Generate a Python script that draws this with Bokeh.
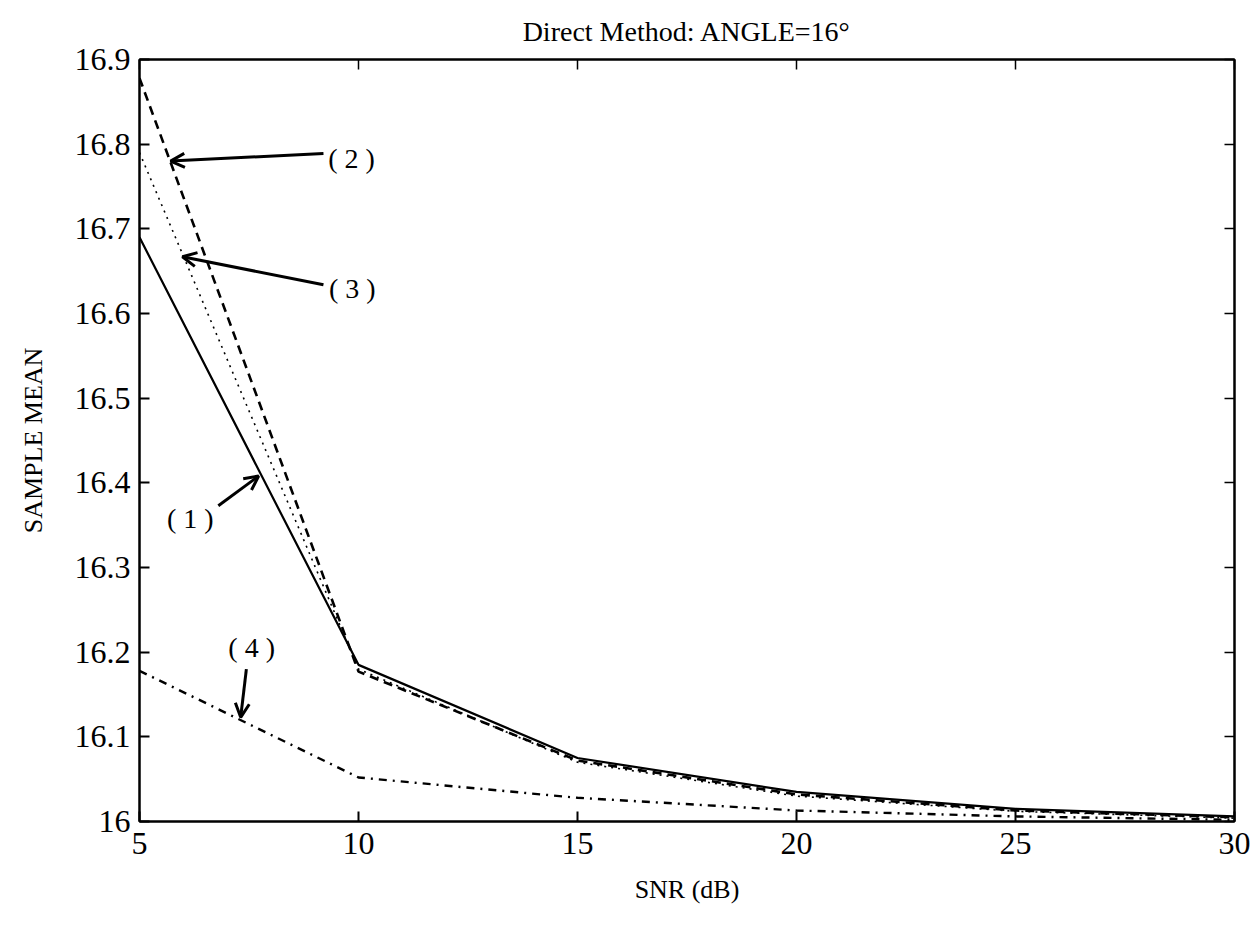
from bokeh.plotting import figure
from bokeh.models import (Range1d, FixedTicker, LinearAxis, Arrow, OpenHead,
                          CustomJSTickFormatter, Label)
from bokeh.embed import file_html
from bokeh.resources import INLINE

# SNR values (dB) on the x axis
snr = [5, 10, 15, 20, 25, 30]

# sample mean of the estimated angle for the four estimators
mean_1 = [16.69, 16.185, 16.075, 16.035, 16.015, 16.006]
mean_2 = [16.878, 16.177, 16.072, 16.032, 16.013, 16.005]
mean_3 = [16.79, 16.18, 16.070, 16.030, 16.012, 16.004]
mean_4 = [16.178, 16.052, 16.028, 16.013, 16.006, 16.002]

x_ticks = [5, 10, 15, 20, 25, 30]
y_ticks = [16.0, 16.1, 16.2, 16.3, 16.4, 16.5, 16.6, 16.7, 16.8, 16.9]
y_tick_labels = ["16", "16.1", "16.2", "16.3", "16.4", "16.5", "16.6", "16.7", "16.8", "16.9"]

# curve labels: text, label position, arrow tail, arrow head
curve_labels = ["( 1 )", "( 2 )", "( 3 )", "( 4 )"]
label_x = [6.16, 9.84, 9.86, 7.56]
label_y = [16.358, 16.783, 16.629, 16.205]
tail_x = [6.80, 9.20, 9.20, 7.44]
tail_y = [16.373, 16.789, 16.634, 16.180]
head_x = [7.72, 5.71, 5.98, 7.31]
head_y = [16.408, 16.780, 16.667, 16.123]

FONT = "Liberation Serif"
INK = "black"

p = figure(width=1257, height=931, output_backend="svg", toolbar_location=None,
           x_range=Range1d(5, 30), y_range=Range1d(16, 16.9),
           x_axis_label="SNR (dB)", y_axis_label="SAMPLE MEAN",
           min_border_left=139, min_border_right=23,
           min_border_top=58, min_border_bottom=110)

p.title.text = "Direct Method: ANGLE=16°"
p.title.text_font = FONT
p.title.text_font_size = "28px"
p.title.text_font_style = "normal"
p.title.text_color = INK
p.title.align = "center"
p.title.standoff = 26

p.grid.visible = False
p.outline_line_color = INK
p.outline_line_width = 2
p.background_fill_color = "white"
p.border_fill_color = "white"

xa = p.xaxis[0]
ya = p.yaxis[0]
xa.ticker = FixedTicker(ticks=x_ticks)
ya.ticker = FixedTicker(ticks=y_ticks)
ya.major_label_overrides = dict(zip(y_ticks, y_tick_labels))

for ax in (xa, ya):
    ax.axis_line_width = 2
    ax.axis_line_color = INK
    ax.major_tick_line_color = INK
    ax.major_tick_line_width = 2
    ax.major_tick_in = 10
    ax.major_tick_out = 0
    ax.minor_tick_line_color = None
    ax.major_label_text_font = FONT
    ax.major_label_text_font_size = "32px"
    ax.major_label_text_color = INK
    ax.axis_label_text_font = FONT
    ax.axis_label_text_font_size = "26px"
    ax.axis_label_text_font_style = "normal"
    ax.axis_label_text_color = INK

ya.major_label_standoff = 9
ya.axis_label_standoff = 24
xa.major_label_standoff = 11
xa.axis_label_standoff = 18

# tick marks on the top and right edges of the box, without labels
blank = CustomJSTickFormatter(code="return ''")
top = LinearAxis(ticker=FixedTicker(ticks=x_ticks), formatter=blank)
right = LinearAxis(ticker=FixedTicker(ticks=y_ticks), formatter=blank)
for ax in (top, right):
    ax.axis_line_width = 2
    ax.axis_line_color = INK
    ax.major_tick_line_color = INK
    ax.major_tick_line_width = 1.5
    ax.major_tick_in = 10
    ax.major_tick_out = 0
    ax.minor_tick_line_color = None
    ax.major_label_standoff = 0
p.add_layout(top, "above")
p.add_layout(right, "right")

# the four curves
p.line(snr, mean_1, line_color=INK, line_width=2.2)
p.line(snr, mean_2, line_color=INK, line_width=2.6, line_dash="9 6")
p.line(snr, mean_3, line_color=INK, line_width=1.6, line_dash="2 5")
p.line(snr, mean_4, line_color=INK, line_width=2.4, line_dash="8 6 2 6")

# labels with arrows pointing at the curves
for t, lx, ly, tx, ty, hx, hy in zip(curve_labels, label_x, label_y,
                                      tail_x, tail_y, head_x, head_y):
    p.add_layout(Label(x=lx, y=ly, text=t, text_font=FONT, text_font_size="28px",
                       text_color=INK, text_align="center", text_baseline="middle"))
    p.add_layout(Arrow(x_start=tx, y_start=ty, x_end=hx, y_end=hy,
                       line_width=3, line_color=INK,
                       end=OpenHead(size=14, line_width=3, line_color=INK)))

open("out.html", "w").write(file_html(p, INLINE))
